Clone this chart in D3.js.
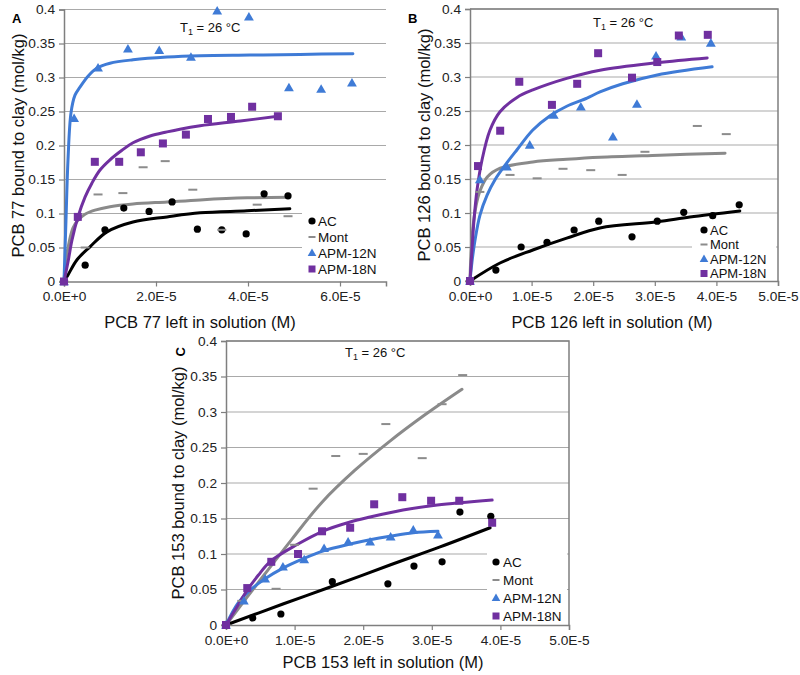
<!DOCTYPE html>
<html><head><meta charset="utf-8">
<script src="https://cdn.jsdelivr.net/npm/d3@7"></script>
<style>body{margin:0;background:#fff;} svg{display:block;font-family:"Liberation Sans",Arial,sans-serif;}</style>
</head><body>
<svg id="c" width="800" height="675"></svg>
<script>
// ---------- DATA ----------
const seriesNames = ["AC", "Mont", "APM-12N", "APM-18N"];
const yTicks = [0, 0.05, 0.1, 0.15, 0.2, 0.25, 0.3, 0.35, 0.4];
const xTicksA = [0, 2e-5, 4e-5, 6e-5];
const xTicksBC = [0, 1e-5, 2e-5, 3e-5, 4e-5, 5e-5];

// Panel A (PCB 77)
const A_AC_x = [0, 0.46e-5, 0.89e-5, 1.3e-5, 1.85e-5, 2.35e-5, 2.9e-5, 3.43e-5, 3.96e-5, 4.35e-5, 4.87e-5];
const A_AC_y = [0, 0.024, 0.076, 0.108, 0.103, 0.117, 0.077, 0.076, 0.070, 0.129, 0.126];
const A_Mont_x = [0, 0.46e-5, 0.74e-5, 1.28e-5, 1.72e-5, 2.2e-5, 2.8e-5, 3.43e-5, 4.2e-5, 4.87e-5];
const A_Mont_y = [0, 0.05, 0.128, 0.13, 0.168, 0.177, 0.135, 0.076, 0.113, 0.096];
const A_12N_x = [0, 0.22e-5, 0.74e-5, 1.39e-5, 2.07e-5, 2.76e-5, 3.33e-5, 4.02e-5, 4.89e-5, 5.59e-5, 6.26e-5];
const A_12N_y = [0, 0.240, 0.314, 0.342, 0.340, 0.330, 0.398, 0.389, 0.285, 0.283, 0.292];
const A_18N_x = [0, 0.30e-5, 0.67e-5, 1.2e-5, 1.67e-5, 2.15e-5, 2.65e-5, 3.13e-5, 3.63e-5, 4.09e-5, 4.65e-5];
const A_18N_y = [0, 0.095, 0.176, 0.176, 0.19, 0.203, 0.216, 0.239, 0.242, 0.257, 0.243];
const A_fitAC = [[0,0],[0.087e-5,0.0096],[0.283e-5,0.032],[0.565e-5,0.051],[0.935e-5,0.073],[1.5e-5,0.0875],[2.24e-5,0.095],[2.96e-5,0.101],[3.98e-5,0.104],[4.91e-5,0.107]];
const A_fitMont = [[0,0],[0.043e-5,0.032],[0.109e-5,0.057],[0.196e-5,0.079],[0.304e-5,0.090],[0.457e-5,0.099],[0.674e-5,0.105],[1.0e-5,0.110],[1.5e-5,0.114],[2.24e-5,0.117],[2.96e-5,0.120],[3.98e-5,0.123],[4.91e-5,0.124]];
const A_fit12N = [[0,0],[0.043e-5,0.090],[0.087e-5,0.179],[0.152e-5,0.248],[0.239e-5,0.274],[0.348e-5,0.286],[0.522e-5,0.302],[0.717e-5,0.314],[1.0e-5,0.321],[1.5e-5,0.326],[2.24e-5,0.330],[2.96e-5,0.332],[4.04e-5,0.333],[5.13e-5,0.334],[6.28e-5,0.335]];
const A_fit18N = [[0,0],[0.087e-5,0.0287],[0.174e-5,0.061],[0.304e-5,0.095],[0.457e-5,0.124],[0.609e-5,0.145],[0.783e-5,0.164],[1.0e-5,0.179],[1.26e-5,0.193],[1.5e-5,0.204],[1.87e-5,0.214],[2.24e-5,0.220],[2.52e-5,0.224],[2.96e-5,0.229],[3.83e-5,0.236],[4.65e-5,0.243]];

// Panel B (PCB 126)
const B_AC_x = [0, 0.42e-5, 0.83e-5, 1.25e-5, 1.69e-5, 2.09e-5, 2.63e-5, 3.04e-5, 3.47e-5, 3.94e-5, 4.37e-5];
const B_AC_y = [0, 0.016, 0.050, 0.057, 0.075, 0.088, 0.065, 0.088, 0.101, 0.096, 0.112];
const B_Mont_x = [0, 0.16e-5, 0.65e-5, 1.09e-5, 1.51e-5, 1.96e-5, 2.47e-5, 2.84e-5, 3.69e-5, 4.16e-5];
const B_Mont_y = [0, 0.131, 0.156, 0.151, 0.165, 0.163, 0.156, 0.190, 0.228, 0.216];
const B_12N_x = [0, 0.16e-5, 0.6e-5, 0.97e-5, 1.36e-5, 1.80e-5, 2.32e-5, 2.71e-5, 3.02e-5, 3.43e-5, 3.91e-5];
const B_12N_y = [0, 0.149, 0.168, 0.200, 0.244, 0.256, 0.212, 0.260, 0.331, 0.359, 0.350];
const B_18N_x = [0, 0.13e-5, 0.49e-5, 0.8e-5, 1.33e-5, 1.74e-5, 2.08e-5, 2.63e-5, 3.04e-5, 3.39e-5, 3.86e-5];
const B_18N_y = [0, 0.169, 0.221, 0.293, 0.259, 0.290, 0.335, 0.299, 0.322, 0.361, 0.362];
const B_fitAC = [[0,0],[0.487e-5,0.0265],[1.02e-5,0.0456],[1.57e-5,0.063],[2.11e-5,0.078],[3.04e-5,0.087],[3.57e-5,0.094],[4.38e-5,0.103]];
const B_fitMont = [[0,0],[0.016e-5,0.040],[0.049e-5,0.080],[0.097e-5,0.110],[0.16e-5,0.132],[0.28e-5,0.153],[0.49e-5,0.166],[1.02e-5,0.175],[1.57e-5,0.179],[2.11e-5,0.182],[3.08e-5,0.185],[4.14e-5,0.188]];
const B_fit12N = [[0,0],[0.032e-5,0.028],[0.081e-5,0.060],[0.162e-5,0.097],[0.276e-5,0.126],[0.406e-5,0.149],[0.60e-5,0.174],[0.763e-5,0.193],[1.02e-5,0.222],[1.30e-5,0.243],[1.57e-5,0.257],[1.90e-5,0.269],[2.11e-5,0.278],[2.48e-5,0.290],[3.04e-5,0.303],[3.93e-5,0.315]];
const B_fit18N = [[0,0],[0.032e-5,0.046],[0.065e-5,0.090],[0.114e-5,0.134],[0.195e-5,0.178],[0.325e-5,0.222],[0.487e-5,0.249],[0.763e-5,0.270],[1.02e-5,0.281],[1.57e-5,0.298],[2.11e-5,0.310],[3.04e-5,0.321],[3.85e-5,0.328]];

// Panel C (PCB 153)
const C_AC_x = [0, 0.39e-5, 0.80e-5, 1.55e-5, 2.36e-5, 2.74e-5, 3.15e-5, 3.41e-5, 3.86e-5];
const C_AC_y = [0, 0.0099, 0.0155, 0.061, 0.058, 0.083, 0.089, 0.159, 0.153];
const C_Mont_x = [0, 0.23e-5, 0.73e-5, 1.0e-5, 1.27e-5, 1.60e-5, 2.0e-5, 2.33e-5, 2.86e-5, 3.15e-5, 3.45e-5];
const C_Mont_y = [0, 0.034, 0.051, 0.113, 0.192, 0.238, 0.241, 0.283, 0.235, 0.311, 0.352];
const C_12N_x = [0, 0.26e-5, 0.57e-5, 0.83e-5, 1.14e-5, 1.43e-5, 1.78e-5, 2.10e-5, 2.40e-5, 2.73e-5, 3.09e-5];
const C_12N_y = [0, 0.034, 0.065, 0.082, 0.092, 0.108, 0.117, 0.117, 0.124, 0.134, 0.127];
const C_18N_x = [0, 0.31e-5, 0.66e-5, 1.05e-5, 1.40e-5, 1.81e-5, 2.16e-5, 2.57e-5, 2.99e-5, 3.40e-5, 3.88e-5];
const C_18N_y = [0, 0.052, 0.089, 0.100, 0.132, 0.137, 0.170, 0.180, 0.175, 0.175, 0.144];
const C_fitAC = [[0,0],[0.83e-5,0.0296],[1.52e-5,0.0535],[2.39e-5,0.0845],[3.12e-5,0.110],[3.85e-5,0.137]];
const C_fitMont = [[0,0],[0.496e-5,0.063],[0.962e-5,0.121],[1.40e-5,0.173],[1.88e-5,0.218],[2.39e-5,0.259],[2.90e-5,0.296],[3.44e-5,0.332]];
const C_fit12N = [[0,0],[0.17e-5,0.030],[0.35e-5,0.049],[0.57e-5,0.065],[0.83e-5,0.080],[1.12e-5,0.093],[1.41e-5,0.104],[1.81e-5,0.114],[2.10e-5,0.120],[2.39e-5,0.125],[2.73e-5,0.130],[3.09e-5,0.132]];
const C_fit18N = [[0,0],[0.15e-5,0.024],[0.31e-5,0.049],[0.47e-5,0.070],[0.64e-5,0.089],[1.03e-5,0.113],[1.41e-5,0.132],[1.81e-5,0.145],[2.10e-5,0.152],[2.58e-5,0.162],[3.08e-5,0.169],[3.88e-5,0.176]];

// ---------- STYLE ----------
const COL = {AC:"#000000", Mont:"#8c8c8c", "APM-12N":"#3f7bd6", "APM-18N":"#7030a0"};
const LINECOL = {AC:"#000000", Mont:"#8a8a8a", "APM-12N":"#3f7bd6", "APM-18N":"#7030a0"};
const zip = (xs, ys) => xs.map((x, i) => [x, ys[i]]);

const panels = [
  {letter:"A", L:64, T:9.5, R:386, B:281.5, xMax:7e-5, xTicks:xTicksA, box:false,
   yTitle:"PCB 77 bound to clay (mol/kg)", xTitle:"PCB 77 left in solution (M)", yTitleX:18, xTitleY:328, xTitleCx:200,
   letterPos:[12,23,0], t1:[180,32], leg:{x:302,y:210,w:86,h:68,mx:312,tx:318,rows:[221,237,253,269],fs:13.5},
   pts:{AC:zip(A_AC_x,A_AC_y), Mont:zip(A_Mont_x,A_Mont_y), "APM-12N":zip(A_12N_x,A_12N_y), "APM-18N":zip(A_18N_x,A_18N_y)},
   fits:{Mont:A_fitMont, AC:A_fitAC, "APM-12N":A_fit12N, "APM-18N":A_fit18N}},
  {letter:"B", L:470, T:9, R:778, B:281, xMax:5e-5, xTicks:xTicksBC, box:true,
   yTitle:"PCB 126 bound to clay (mol/kg)", xTitle:"PCB 126 left in solution (M)", yTitleX:424, xTitleY:328, xTitleCx:612,
   letterPos:[408,23,0], t1:[593,27], leg:{x:692,y:221,w:84,h:58,mx:704,tx:710,rows:[230,244.5,259,273.5],fs:13},
   pts:{AC:zip(B_AC_x,B_AC_y), Mont:zip(B_Mont_x,B_Mont_y), "APM-12N":zip(B_12N_x,B_12N_y), "APM-18N":zip(B_18N_x,B_18N_y)},
   fits:{Mont:B_fitMont, AC:B_fitAC, "APM-12N":B_fit12N, "APM-18N":B_fit18N}},
  {letter:"C", L:226, T:341, R:569, B:625, xMax:5e-5, xTicks:xTicksBC, box:true,
   yTitle:"PCB 153 bound to clay (mol/kg)", xTitle:"PCB 153 left in solution (M)", yTitleX:178, xTitleY:668, xTitleCx:383,
   letterPos:[185,347,-90], t1:[345,357], leg:{x:487,y:552,w:80,h:71,mx:496,tx:503,rows:[562,580,598,616],fs:13.5},
   pts:{AC:zip(C_AC_x,C_AC_y), Mont:zip(C_Mont_x,C_Mont_y), "APM-12N":zip(C_12N_x,C_12N_y), "APM-18N":zip(C_18N_x,C_18N_y)},
   fits:{Mont:C_fitMont, AC:C_fitAC, "APM-12N":C_fit12N, "APM-18N":C_fit18N}}
];

const svg = d3.select("#c");
const xFmt = d => d === 0 ? "0.0E+0" : (d / 1e-5).toFixed(1) + "E-5";
const yFmt = d => String(+d.toFixed(2));

function marker(g, name, x, y) {
  const c = COL[name];
  if (name === "AC") g.append("circle").attr("cx", x).attr("cy", y).attr("r", 3.6).attr("fill", c);
  else if (name === "Mont") g.append("rect").attr("x", x - 4.5).attr("y", y - 1).attr("width", 9).attr("height", 2).attr("fill", c);
  else if (name === "APM-12N") g.append("path").attr("d", d3.symbol(d3.symbolTriangle, 42)()).attr("transform", `translate(${x},${y + 0.8})`).attr("fill", c);
  else g.append("rect").attr("x", x - 4).attr("y", y - 4).attr("width", 8).attr("height", 8).attr("fill", c);
}

panels.forEach(p => {
  const x = d3.scaleLinear().domain([0, p.xMax]).range([p.L, p.R]);
  const y = d3.scaleLinear().domain([0, 0.4]).range([p.B, p.T]);
  const g = svg.append("g");

  // gridlines
  g.append("g").selectAll("line").data(yTicks.filter(t => t > 0)).join("line")
    .attr("x1", p.L).attr("x2", p.R).attr("y1", d => y(d)).attr("y2", d => y(d))
    .attr("stroke", "#a9a9a9").attr("stroke-width", 1.2);

  // axes
  const yAx = g.append("g").attr("transform", `translate(${p.L},0)`)
    .call(d3.axisLeft(y).tickValues(yTicks).tickFormat(yFmt).tickSize(5).tickPadding(4));
  const xAx = g.append("g").attr("transform", `translate(0,${p.B})`)
    .call(d3.axisBottom(x).tickValues(p.xTicks).tickFormat(xFmt).tickSize(5).tickPadding(5));
  [yAx, xAx].forEach(a => {
    a.selectAll("path").attr("stroke", "#7f7f7f").attr("stroke-width", 1.5);
    a.selectAll("line").attr("stroke", "#7f7f7f").attr("stroke-width", 1.2);
    a.selectAll("text").attr("font-size", 13.7).attr("fill", "#222").attr("font-family", "Liberation Sans, Arial, sans-serif");
  });
  if (p.box) {
    g.append("path").attr("d", `M${p.L},${p.T}H${p.R}V${p.B}`).attr("fill", "none").attr("stroke", "#7f7f7f").attr("stroke-width", 1.5);
  }

  // fitted lines
  const line = d3.line().x(d => x(d[0])).y(d => y(d[1])).curve(d3.curveCatmullRom.alpha(0.5));
  Object.keys(p.fits).forEach(k => {
    g.append("path").attr("d", line(p.fits[k])).attr("fill", "none")
      .attr("stroke", LINECOL[k]).attr("stroke-width", 3).attr("stroke-linecap", "round").attr("stroke-linejoin", "round");
  });

  // markers
  seriesNames.forEach(k => p.pts[k].forEach(d => marker(g, k, x(d[0]), y(d[1]))));

  // titles
  g.append("text").attr("transform", `translate(${p.yTitleX},${(p.T + p.B) / 2}) rotate(-90)`)
    .attr("text-anchor", "middle").attr("dominant-baseline", "central").attr("font-size", 16.5).attr("fill", "#111").text(p.yTitle);
  g.append("text").attr("x", p.xTitleCx).attr("y", p.xTitleY).attr("text-anchor", "middle")
    .attr("font-size", 16.5).attr("fill", "#111").text(p.xTitle);
  g.append("text").attr("transform", `translate(${p.letterPos[0]},${p.letterPos[1]}) rotate(${p.letterPos[2]})`)
    .attr("text-anchor", p.letterPos[2] ? "end" : "start").attr("font-size", 13).attr("font-weight", "bold").text(p.letter);

  // T1 label
  const t = g.append("text").attr("x", p.t1[0]).attr("y", p.t1[1]).attr("font-size", 13).attr("fill", "#111");
  t.append("tspan").text("T");
  t.append("tspan").attr("font-size", 9).attr("dy", 3).text("1");
  t.append("tspan").attr("dy", -3).text(" = 26 °C");

  // legend
  const lg = g.append("g");
  lg.append("rect").attr("x", p.leg.x).attr("y", p.leg.y).attr("width", p.leg.w).attr("height", p.leg.h).attr("fill", "#fff");
  seriesNames.forEach((k, i) => {
    const ry = p.leg.rows[i];
    if (k === "AC") lg.append("circle").attr("cx", p.leg.mx).attr("cy", ry).attr("r", 3.6).attr("fill", COL[k]);
    else if (k === "Mont") lg.append("rect").attr("x", p.leg.mx - 3.5).attr("y", ry - 1).attr("width", 7).attr("height", 2).attr("fill", COL[k]);
    else if (k === "APM-12N") lg.append("path").attr("d", d3.symbol(d3.symbolTriangle, 32)()).attr("transform", `translate(${p.leg.mx},${ry + 0.5})`).attr("fill", COL[k]);
    else lg.append("rect").attr("x", p.leg.mx - 3.5).attr("y", ry - 3.5).attr("width", 7).attr("height", 7).attr("fill", COL[k]);
    lg.append("text").attr("x", p.leg.tx).attr("y", ry).attr("dominant-baseline", "central")
      .attr("font-size", p.leg.fs).attr("fill", "#111").text(k);
  });
});
</script>
</body></html>
